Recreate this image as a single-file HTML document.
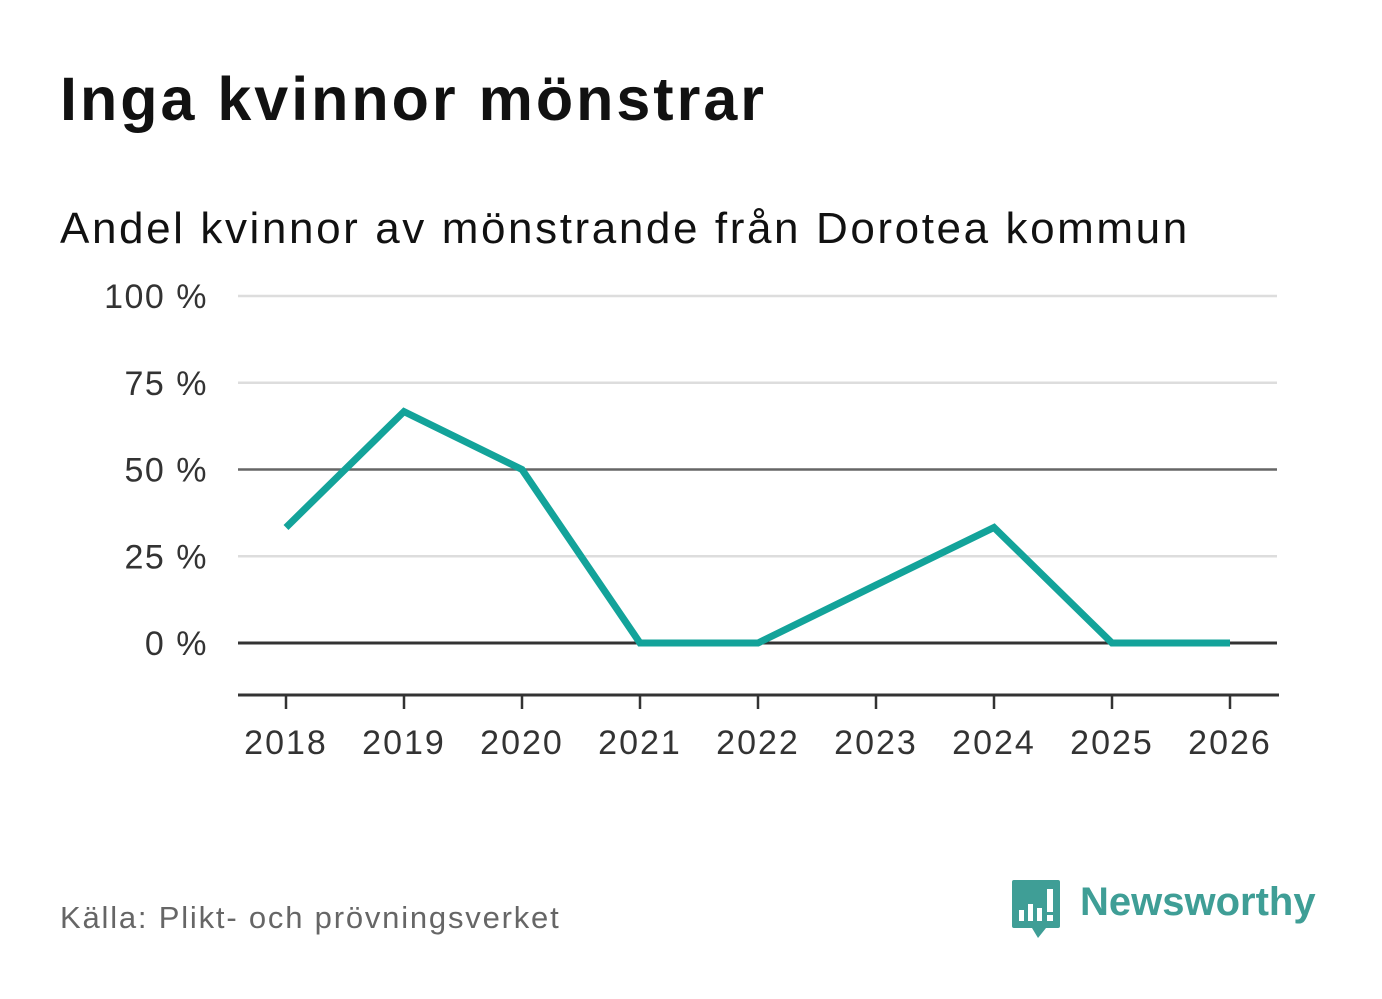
<!DOCTYPE html>
<html><head><meta charset="utf-8"><style>
body{margin:0;width:1382px;height:999px;background:#fff;font-family:"Liberation Sans",sans-serif;overflow:hidden;position:relative}
.t{position:absolute;white-space:nowrap}
</style></head><body>
<div class="t" style="left:60px;top:64px;font-size:61px;font-weight:bold;color:#111;letter-spacing:3px">Inga kvinnor mönstrar</div>
<div class="t" style="left:60px;top:204px;font-size:44px;color:#111;letter-spacing:2.6px">Andel kvinnor av mönstrande från Dorotea kommun</div>
<svg id="chart" width="1382" height="999" style="position:absolute;left:0;top:0"></svg>
<div class="t" style="left:60px;top:900px;font-size:31px;color:#666;letter-spacing:1.8px">Källa: Plikt- och prövningsverket</div>
<div style="position:absolute;left:1012px;top:880px">
<svg width="50" height="60"><path d="M2 0H46Q48 0 48 2V46Q48 48 46 48H34L26 58L20 48H2Q0 48 0 46V2Q0 0 2 0Z" fill="#3f9e96"/><rect x="7" y="30" width="5" height="11" fill="#fff"/><rect x="16" y="24" width="5" height="17" fill="#fff"/><rect x="25" y="28" width="5" height="13" fill="#fff"/><rect x="35" y="9" width="6" height="23" fill="#fff"/><rect x="35" y="35" width="6" height="6" fill="#fff"/></svg>
<div class="t" style="left:68px;top:0px;font-size:40px;font-weight:bold;color:#3f9e96">Newsworthy</div>
</div>
<script>
const years=["2018","2019","2020","2021","2022","2023","2024","2025","2026"];
const values=[33.3,66.7,50,0,0,16.7,33.3,0,0];
const yTicks=[0,25,50,75,100];
const yTickLabels=["0 %","25 %","50 %","75 %","100 %"];
const svg=document.getElementById('chart');
const NS="http://www.w3.org/2000/svg";
const x=i=>286+i*118;
const y=v=>643-v*3.47;
function mk(tag,attrs){const e=document.createElementNS(NS,tag);for(const k in attrs)e.setAttribute(k,attrs[k]);svg.appendChild(e);return e;}
yTicks.forEach((t,i)=>{
 const l=mk('line',{x1:238,x2:1277,y1:y(t),y2:y(t),stroke:t===0?'#333':(t===50?'#666':'#ddd'),'stroke-width':t===0?3:2.5});
 
 
 const tx=mk('text',{x:208,y:y(t)+12,'text-anchor':'end','font-size':34,fill:'#333','font-family':'Liberation Sans, sans-serif','letter-spacing':'1.5'});
 tx.textContent=yTickLabels[i];
 
 
});
const ax=mk('line',{x1:238,x2:1279,y1:695,y2:695,stroke:'#333','stroke-width':3});


years.forEach((yr,i)=>{
 const tk=mk('line',{x1:x(i),x2:x(i),y1:695,y2:709,stroke:'#333','stroke-width':2.5});
 
 
 const tx=mk('text',{x:x(i),y:754,'text-anchor':'middle','font-size':34,fill:'#333','font-family':'Liberation Sans, sans-serif','letter-spacing':'2'});
 tx.textContent=yr;
 
 
});
const p=mk('polyline',{points:values.map((v,i)=>x(i)+','+y(v)).join(' '),fill:'none',stroke:'#13a39a','stroke-width':7,'stroke-linejoin':'miter'});


</script>
</body></html>
